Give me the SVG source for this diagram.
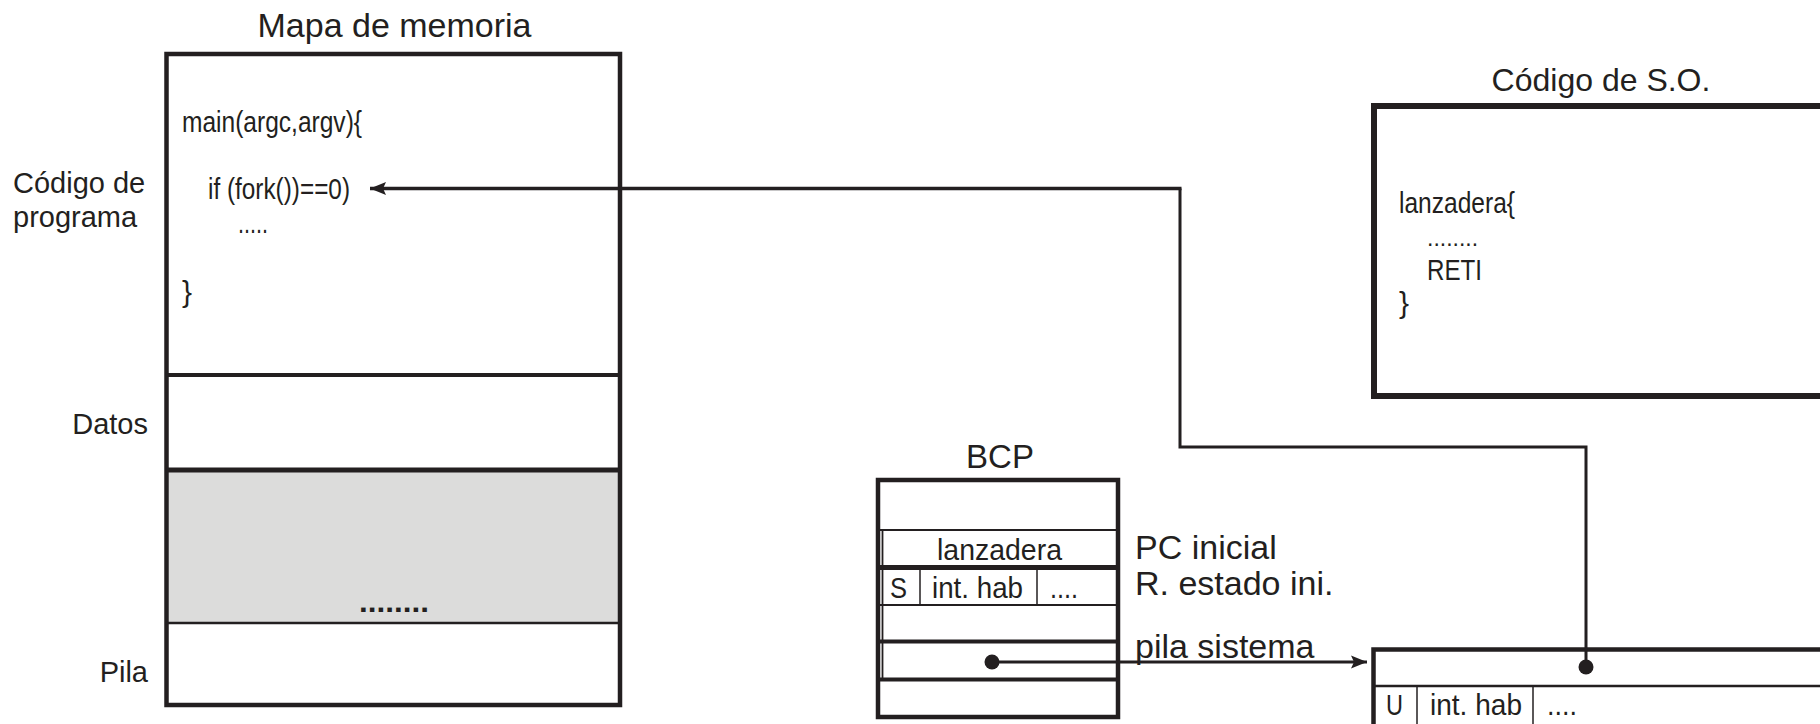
<svg xmlns="http://www.w3.org/2000/svg" width="1820" height="724" viewBox="0 0 1820 724">
<defs>
<style>
.t{font-family:"Liberation Sans",Arial,sans-serif;fill:#231f20}
.big{font-size:34px}
.lbl{font-size:29px}
.code{font-size:30px}
.box{fill:none;stroke:#231f20}
.ln{stroke:#231f20;fill:none}
</style>
<marker id="ah" markerWidth="18" markerHeight="14" viewBox="0 0 18 14" refX="16" refY="7" orient="auto" markerUnits="userSpaceOnUse">
<path d="M16,7 L0,0.5 L3,7 L0,13.5 Z" fill="#231f20"/>
</marker>
</defs>
<rect width="1820" height="724" fill="#ffffff"/>

<g id="mapa-memoria">
<text class="t big" x="394.5" y="37" text-anchor="middle">Mapa de memoria</text>
<rect x="168.5" y="470" width="450" height="153" fill="#dcdcdb"/>
<rect class="box" x="166.5" y="54" width="453.5" height="651" stroke-width="4.5"/>
<line class="ln" x1="166.5" y1="375" x2="620" y2="375" stroke-width="4"/>
<line class="ln" x1="166.5" y1="470" x2="620" y2="470" stroke-width="5"/>
<line class="ln" x1="166.5" y1="623" x2="620" y2="623" stroke-width="2.3"/>
<text class="t code" x="182" y="132" textLength="180" lengthAdjust="spacingAndGlyphs">main(argc,argv){</text>
<text class="t code" x="208" y="199" textLength="142" lengthAdjust="spacingAndGlyphs">if (fork())==0)</text>
<text class="t code" x="238" y="233" textLength="30" lengthAdjust="spacingAndGlyphs">.....</text>
<text class="t code" x="182" y="302" textLength="10" lengthAdjust="spacingAndGlyphs">}</text>
<text class="t code" x="359" y="612" textLength="70" lengthAdjust="spacingAndGlyphs" font-weight="bold">........</text>
<text class="t lbl" x="13" y="193">Código de</text>
<text class="t lbl" x="13" y="227">programa</text>
<text class="t lbl" x="148" y="434" text-anchor="end">Datos</text>
<text class="t lbl" x="148" y="682" text-anchor="end">Pila</text>
</g>

<g id="codigo-so">
<text class="t" x="1601" y="91" text-anchor="middle" font-size="32">Código de S.O.</text>
<rect class="box" x="1374" y="106" width="520" height="290" stroke-width="6"/>
<text class="t code" x="1399" y="213" textLength="116" lengthAdjust="spacingAndGlyphs">lanzadera{</text>
<text class="t" x="1427" y="246" font-size="24" textLength="51" lengthAdjust="spacingAndGlyphs">........</text>
<text class="t code" x="1427" y="280" textLength="55" lengthAdjust="spacingAndGlyphs">RETI</text>
<text class="t code" x="1399" y="313" textLength="10" lengthAdjust="spacingAndGlyphs">}</text>
</g>

<g id="bcp">
<text class="t" x="1000" y="468" text-anchor="middle" font-size="33">BCP</text>
<rect class="box" x="878" y="480" width="240" height="237" stroke-width="4.5"/>
<line class="ln" x1="878" y1="530" x2="1118" y2="530" stroke-width="2.2"/>
<line class="ln" x1="878" y1="567.5" x2="1118" y2="567.5" stroke-width="5"/>
<line class="ln" x1="878" y1="605" x2="1118" y2="605" stroke-width="2.2"/>
<line class="ln" x1="878" y1="641.5" x2="1118" y2="641.5" stroke-width="4"/>
<line class="ln" x1="878" y1="679.5" x2="1118" y2="679.5" stroke-width="4"/>
<line class="ln" x1="882.5" y1="531" x2="882.5" y2="679" stroke-width="1.8"/>
<line class="ln" x1="920" y1="570" x2="920" y2="604" stroke-width="1.5"/>
<line class="ln" x1="1037" y1="570" x2="1037" y2="604" stroke-width="1.5"/>
<text class="t code" x="937" y="560" textLength="125" lengthAdjust="spacingAndGlyphs">lanzadera</text>
<text class="t code" x="890" y="598" textLength="17" lengthAdjust="spacingAndGlyphs">S</text>
<text class="t code" x="932" y="598" textLength="91" lengthAdjust="spacingAndGlyphs">int. hab</text>
<text class="t code" x="1050" y="598" textLength="28" lengthAdjust="spacingAndGlyphs">....</text>
<text class="t big" x="1135" y="559">PC inicial</text>
<text class="t big" x="1135" y="595">R. estado ini.</text>
<text class="t big" x="1135" y="658">pila sistema</text>
</g>

<g id="pila-sistema">
<rect class="box" x="1373.5" y="649.5" width="520" height="120" stroke-width="4.5"/>
<line class="ln" x1="1373.5" y1="686" x2="1820" y2="686" stroke-width="2.5"/>
<line class="ln" x1="1417" y1="687" x2="1417" y2="724" stroke-width="1.5"/>
<line class="ln" x1="1533" y1="687" x2="1533" y2="724" stroke-width="1.5"/>
<text class="t code" x="1386" y="715" textLength="17" lengthAdjust="spacingAndGlyphs">U</text>
<text class="t code" x="1430" y="715" textLength="92" lengthAdjust="spacingAndGlyphs">int. hab</text>
<text class="t code" x="1547" y="715" textLength="30" lengthAdjust="spacingAndGlyphs">....</text>
</g>

<g id="connectors">
<polyline class="ln" points="1586,667 1586,447 1180,447 1180,188.5" stroke-width="3"/>
<line class="ln" x1="1181.5" y1="188.5" x2="370" y2="188.5" stroke-width="3.6" marker-end="url(#ah)"/>
<circle cx="1586" cy="667" r="7.5" fill="#231f20"/>
<line class="ln" x1="992" y1="662" x2="1367" y2="662" stroke-width="3.2" marker-end="url(#ah)"/>
<circle cx="992" cy="662" r="7.5" fill="#231f20"/>
</g>
</svg>
